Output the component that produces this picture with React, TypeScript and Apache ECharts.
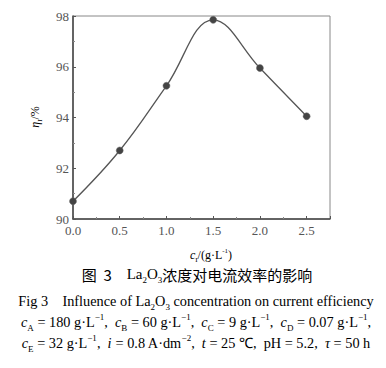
import React, { useEffect, useRef } from "react";
import * as echarts from "echarts";

const xValues = [0.0, 0.5, 1.0, 1.5, 2.0, 2.5];
const efficiency = [90.7, 92.7, 95.25, 97.85, 95.95, 94.05];
const xTickLabels = ["0.0", "0.5", "1.0", "1.5", "2.0", "2.5"];
const yTickLabels = ["90", "92", "94", "96", "98"];

const SERIF = "Liberation Serif";
const CJK = "Noto Sans CJK SC";
const TXT = "#333";

export default function App() {
  const ref = useRef<HTMLDivElement>(null);
  useEffect(() => {
    if (!ref.current) return;
    const chart = echarts.init(ref.current, null, { renderer: "svg" });
    const FS = 14.3;
    const sub = { fontFamily: SERIF, fontSize: 9, color: TXT, verticalAlign: "bottom" as const, padding: [0, 0, -3, 0] };
    const sup = { fontFamily: SERIF, fontSize: 9, color: TXT, verticalAlign: "top" as const, padding: [-3, 0, 0, 0] };
    const it = { fontFamily: SERIF, fontSize: FS, fontStyle: "italic" as const, color: TXT };
    const norm = { fontFamily: SERIF, fontSize: FS, color: TXT };
    chart.setOption({
      animation: false,
      textStyle: { fontFamily: SERIF },
      grid: { left: 73, right: 56, top: 16, bottom: 149, show: true, borderColor: "#888", borderWidth: 1 },
      xAxis: [
        {
          type: "value",
          min: 0,
          max: 2.75,
          interval: 0.5,
          axisLine: { show: true, onZero: false, lineStyle: { color: "#444", width: 1.5 } },
          axisTick: { inside: true, length: 3, lineStyle: { color: "#555" } },
          minorTick: { show: true, splitNumber: 2, length: 2, lineStyle: { color: "#888" } },
          splitLine: { show: false },
          axisLabel: {
            fontFamily: SERIF,
            fontSize: 13,
            color: "#555",
            margin: 5,
            formatter: (v: number) => {
              const i = xValues.indexOf(v);
              return i >= 0 ? xTickLabels[i] : "";
            },
          },
        },
      ],
      yAxis: [
        {
          type: "value",
          min: 90,
          max: 98,
          interval: 2,
          axisLine: { show: true, onZero: false, lineStyle: { color: "#444", width: 1.5 } },
          axisTick: { inside: true, length: 3, lineStyle: { color: "#555" } },
          minorTick: { show: true, splitNumber: 2, length: 2, lineStyle: { color: "#888" } },
          splitLine: { show: false },
          axisLabel: {
            fontFamily: SERIF,
            fontSize: 13,
            color: "#555",
            margin: 4,
            formatter: (v: number) => {
              const s = String(v);
              return yTickLabels.includes(s) ? s : "";
            },
          },
        },
      ],
      graphic: [
        {
          type: "text",
          x: 35,
          y: 117,
          rotation: Math.PI / 2,
          style: {
            text: "{i|η}{s|I}{n|/%}",
            align: "center",
            verticalAlign: "middle",
            rich: {
              i: { fontFamily: SERIF, fontSize: 12, fontStyle: "italic", color: "#777" },
              s: { fontFamily: SERIF, fontSize: 7, color: "#777", verticalAlign: "bottom", padding: [0, 0, -2, 0] },
              n: { fontFamily: SERIF, fontSize: 12, color: "#777" },
            },
          },
        },
        {
          type: "text",
          x: 211,
          y: 255,
          style: {
            text: "{i|c}{s|I}{n|/(g·L}{p|-1}{n|)}",
            align: "center",
            verticalAlign: "middle",
            rich: {
              i: { fontFamily: SERIF, fontSize: 12, fontStyle: "italic", color: "#777" },
              s: { fontFamily: SERIF, fontSize: 7, color: "#777", verticalAlign: "bottom", padding: [0, 0, -2, 0] },
              n: { fontFamily: SERIF, fontSize: 12, color: "#777" },
              p: { fontFamily: SERIF, fontSize: 7, color: "#777", verticalAlign: "top", padding: [-2, 0, 0, 0] },
            },
          },
        },
        {
          type: "text",
          x: 197,
          y: 274,
          style: {
            text: "{c|图  3}{n|    La}{s|2}{n|O}{s|3}{c|浓度对电流效率的影响}",
            align: "center",
            verticalAlign: "middle",
            rich: {
              c: { fontFamily: CJK, fontSize: 15, color: TXT },
              n: { fontFamily: SERIF, fontSize: 15, color: TXT },
              s: sub,
            },
          },
        },
        {
          type: "text",
          x: 196,
          y: 301,
          style: {
            text: "{n|Fig 3    Influence of La}{s|2}{n|O}{s|3}{n| concentration on current efficiency}",
            align: "center",
            verticalAlign: "middle",
            rich: { n: norm, s: sub },
          },
        },
        {
          type: "text",
          x: 196,
          y: 322,
          style: {
            text:
              "{i|c}{s|A}{n| = 180 g·L}{p|−1}{n|,  }{i|c}{s|B}{n| = 60 g·L}{p|−1}{n|,  }{i|c}{s|C}{n| = 9 g·L}{p|−1}{n|,  }{i|c}{s|D}{n| = 0.07 g·L}{p|−1}{n|,}",
            align: "center",
            verticalAlign: "middle",
            rich: { n: norm, i: it, s: sub, p: sup },
          },
        },
        {
          type: "text",
          x: 196,
          y: 343,
          style: {
            text:
              "{i|c}{s|E}{n| = 32 g·L}{p|−1}{n|,  }{i|i}{n| = 0.8 A·dm}{p|−2}{n|,  }{i|t}{n| = 25 ℃,  pH = 5.2,  }{i|τ}{n| = 50 h}",
            align: "center",
            verticalAlign: "middle",
            rich: { n: norm, i: it, s: sub, p: sup },
          },
        },
      ],
      series: [
        {
          type: "line",
          data: xValues.map((x, i) => [x, efficiency[i]]),
          smooth: 0.4,
          symbol: "circle",
          symbolSize: 7,
          lineStyle: { color: "#555", width: 1.3 },
          itemStyle: { color: "#444", borderColor: "#666", borderWidth: 0.5 },
          clip: false,
        },
      ],
    });
    return () => chart.dispose();
  }, []);
  return <div ref={ref} style={{ width: 386, height: 368, position: "absolute", left: 0, top: 0 }} />;
}
